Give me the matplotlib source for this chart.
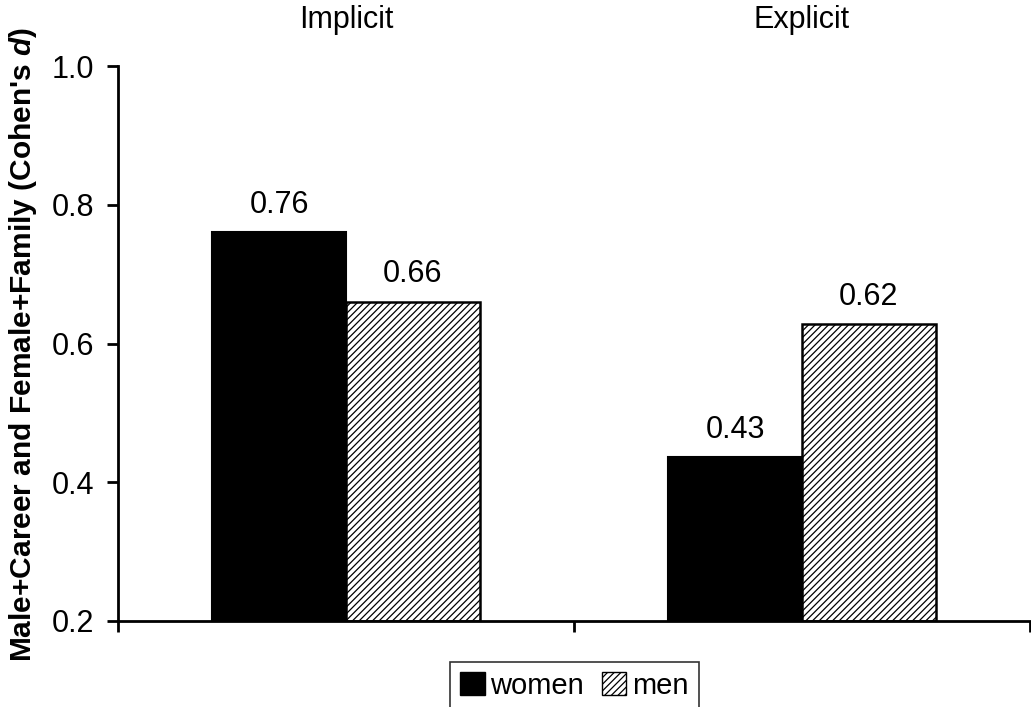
import numpy as np
import matplotlib
matplotlib.use("Agg")
import matplotlib.pyplot as plt
from matplotlib.patches import Patch

# ============================
#   Données
# ============================

categories = ["Implicit", "Explicit"]
groups = ["women", "men"]
women_values = [0.76, 0.436]
men_values = [0.66, 0.628]
women_labels = ["0.76", "0.43"]
men_labels = ["0.66", "0.62"]
y_ticks = [0.2, 0.4, 0.6, 0.8, 1.0]

plt.rcParams["font.family"] = ["Liberation Sans", "DejaVu Sans"]
plt.rcParams["mathtext.fontset"] = "custom"
plt.rcParams["mathtext.it"] = "Liberation Sans:italic:bold"
plt.rcParams["hatch.linewidth"] = 0.9

fig = plt.figure(figsize=(10.31, 7.07), dpi=100)
ax = fig.add_axes([118 / 1031, 1 - 621 / 707, 912 / 1031, 555 / 707])

x = np.arange(len(categories)) + 0.5
w = 0.293

b1 = ax.bar(x - w / 2, np.array(women_values) - 0.2, w, bottom=0.2,
            color="black", edgecolor="black", linewidth=1.5)
b2 = ax.bar(x + w / 2, np.array(men_values) - 0.2, w, bottom=0.2,
            color="white", edgecolor="black", hatch="/////", linewidth=1.8)

for bars, vals, labs in [(b1, women_values, women_labels), (b2, men_values, men_labels)]:
    for bar, v, lab in zip(bars, vals, labs):
        ax.annotate(lab, (bar.get_x() + bar.get_width() / 2, v),
                    xytext=(0, 9), textcoords="offset points",
                    ha="center", va="bottom", fontsize=22)

for xi, cat in zip(x, categories):
    ax.text(xi, 1.083, cat, ha="center", va="center", fontsize=22,
            transform=ax.get_xaxis_transform())

ax.set_xlim(0, 2)
ax.set_ylim(0.2, 1.0)
ax.set_yticks(y_ticks)
ax.set_yticklabels([f"{t:.1f}" for t in y_ticks])
ax.set_xticks([0, 1, 2])
ax.set_xticklabels([])
ax.tick_params(axis="both", direction="out", length=8, width=2, labelsize=22)
ax.tick_params(axis="y", pad=9)

for s in ["top", "right"]:
    ax.spines[s].set_visible(False)
for s in ["left", "bottom"]:
    ax.spines[s].set_linewidth(2)

fig.text(0.022, 0.513, r"Male+Career and Female+Family (Cohen's $\mathit{d}$)",
         rotation=90, ha="center", va="center", fontsize=21.5, fontweight="bold")

handles = [Patch(facecolor="black", edgecolor="black"),
           Patch(facecolor="white", edgecolor="black", hatch="/////")]
leg = fig.legend(handles, groups, loc="upper center", bbox_to_anchor=(0.557, 0.064),
                 ncol=2, fontsize=21, frameon=True, fancybox=False,
                 handlelength=0.85, handleheight=0.85, handletextpad=0.2,
                 columnspacing=0.6, borderpad=0.35, borderaxespad=0)
leg.get_frame().set_edgecolor("black")
leg.get_frame().set_linewidth(1.2)

fig.savefig("out.png", dpi=100)
